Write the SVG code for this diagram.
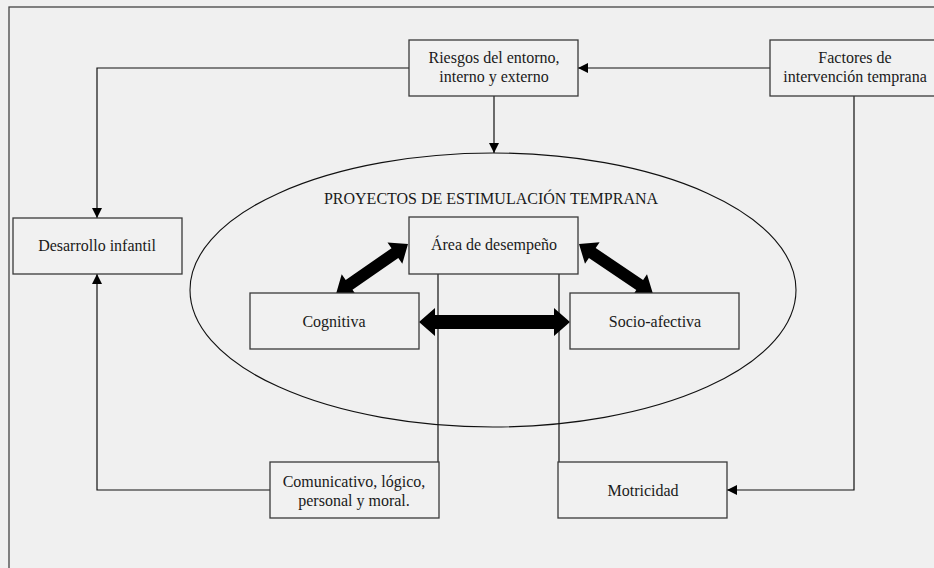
<svg xmlns="http://www.w3.org/2000/svg" width="934" height="568" viewBox="0 0 934 568">
<style>
.box{fill:#f1f1f1;stroke:#3a3a3a;stroke-width:1.3}
.ln{fill:none;stroke:#111;stroke-width:1.2}
.t{font-family:"Liberation Serif","Times New Roman",serif;font-size:16px;fill:#1a1a1a;text-anchor:middle}
.thick{fill:#000}
</style>
<defs>
<marker id="ah" viewBox="0 0 10 10" refX="10" refY="5" markerWidth="10" markerHeight="10" markerUnits="userSpaceOnUse" orient="auto">
<path d="M0,0 L10,5 L0,10 z" fill="#000"/>
</marker>
</defs>
<rect x="0" y="0" width="934" height="568" fill="#f0f0f0"/>
<rect x="9" y="7" width="940" height="580" fill="none" stroke="#444" stroke-width="1.3"/>
<g id="connectors">
<path class="ln" d="M770,68 L578,68" marker-end="url(#ah)"/>
<path class="ln" d="M409,68 L97,68 L97,218" marker-end="url(#ah)"/>
<path class="ln" d="M494,96 L494,153" marker-end="url(#ah)"/>
<path class="ln" d="M854,96 L854,490 L727,490" marker-end="url(#ah)"/>
<path class="ln" d="M270,490 L97,490 L97,274" marker-end="url(#ah)"/>
<path class="ln" d="M438,274 L438,462"/>
<path class="ln" d="M559,274 L559,462"/>
<polygon class="thick" points="419,322 435,308 435,315 554,315 554,308 570,322 554,336 554,329 435,329 435,336"/>
<polygon class="thick" points="336,294 341.7,274.2 345.7,280 391.5,248.2 387.5,242.4 408,244 402.3,263.8 398.3,258 352.5,289.8 356.5,295.6"/>
<polygon class="thick" points="579,244 599.6,242.2 595.7,248 643.1,280 647,274.2 653,294 632.4,295.8 636.3,290 588.9,258 585,263.8"/>
</g>
<g id="proyectos">
<ellipse cx="493" cy="290" rx="303" ry="137" fill="none" stroke="#111" stroke-width="1.1"/>
<text class="t" x="491" y="204">PROYECTOS DE ESTIMULACIÓN TEMPRANA</text>
</g>
<g id="riesgos">
<rect class="box" x="409" y="40" width="169" height="56"/>
<text class="t" x="494" y="63">Riesgos del entorno,</text>
<text class="t" x="494" y="82">interno y externo</text>
</g>
<g id="factores">
<rect class="box" x="770" y="40" width="172" height="56"/>
<text class="t" x="855" y="63">Factores de</text>
<text class="t" x="855" y="82">intervención temprana</text>
</g>
<g id="desarrollo">
<rect class="box" x="13" y="218" width="169" height="56"/>
<text class="t" x="97" y="251">Desarrollo infantil</text>
</g>
<g id="area">
<rect class="box" x="409" y="217" width="169" height="57"/>
<text class="t" x="494" y="250">Área de desempeño</text>
</g>
<g id="cognitiva">
<rect class="box" x="250" y="293" width="169" height="56"/>
<text class="t" x="334" y="327">Cognitiva</text>
</g>
<g id="socio">
<rect class="box" x="570" y="293" width="169" height="56"/>
<text class="t" x="655" y="327">Socio-afectiva</text>
</g>
<g id="comunicativo">
<rect class="box" x="270" y="462" width="169" height="56"/>
<text class="t" x="354" y="487">Comunicativo, lógico,</text>
<text class="t" x="354" y="506">personal y moral.</text>
</g>
<g id="motricidad">
<rect class="box" x="558" y="462" width="169" height="56"/>
<text class="t" x="643" y="496">Motricidad</text>
</g>
</svg>
